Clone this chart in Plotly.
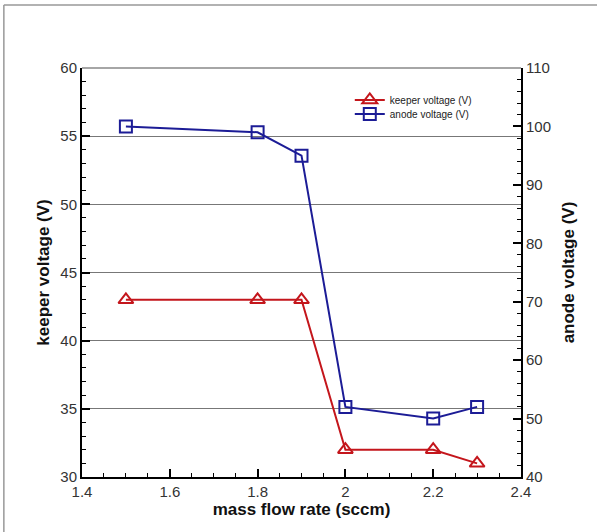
import plotly.graph_objects as go

flow = [1.5, 1.8, 1.9, 2.0, 2.2, 2.3]
keeper_v = [43, 43, 43, 32, 32, 31]
anode_v = [100, 99, 95, 52, 50, 52]

x_ticks = [1.4, 1.6, 1.8, 2.0, 2.2, 2.4]
x_ticklabels = ["1.4", "1.6", "1.8", "2", "2.2", "2.4"]

RED = "#c4161c"
BLUE = "#1c1c96"
FONT = "Liberation Sans, Arial, sans-serif"

fig = go.Figure()
fig.add_trace(go.Scatter(
    x=flow, y=keeper_v, name="keeper voltage (V)", mode="lines+markers",
    line=dict(color=RED, width=2), legend="legend",
    marker=dict(symbol="triangle-up-open", size=13, color=RED, line=dict(width=2, color=RED)),
))
fig.add_trace(go.Scatter(
    x=flow, y=anode_v, name="anode voltage (V)", mode="lines+markers", yaxis="y2",
    line=dict(color=BLUE, width=2), legend="legend2",
    marker=dict(symbol="square-open", size=12, color=BLUE, line=dict(width=2, color=BLUE)),
))

axis_common = dict(
    ticks="inside", ticklen=8, tickwidth=2, tickcolor="black",
    showline=True, linecolor="black", linewidth=2,
    tickfont=dict(family=FONT, size=15, color="#333"),
    zeroline=False,
)
title_font = dict(family=FONT, size=17, color="#111")
leg_common = dict(
    xanchor="left", yanchor="middle",
    bgcolor="rgba(0,0,0,0)", font=dict(family=FONT, size=10, color="#222"),
    itemwidth=30,
)

fig.update_layout(
    width=597, height=532,
    margin=dict(l=82, r=76, t=68, b=55),
    paper_bgcolor="white", plot_bgcolor="white",
    font=dict(family=FONT),
    xaxis=dict(
        range=[1.4, 2.4], tickvals=x_ticks, ticktext=x_ticklabels,
        showgrid=False,
        minor=dict(ticks="inside", ticklen=4, tickwidth=1, tickcolor="black", dtick=0.05, showgrid=False),
        title=dict(text="<b>mass flow rate (sccm)</b>", font=title_font, standoff=2),
        **axis_common,
    ),
    yaxis=dict(
        range=[30, 60], dtick=5,
        showgrid=True, gridcolor="#777", gridwidth=1,
        minor=dict(ticks="inside", ticklen=4, tickwidth=1, tickcolor="black", dtick=1, showgrid=False),
        title=dict(text="<b>keeper voltage (V)</b>", font=title_font, standoff=6),
        **axis_common,
    ),
    yaxis2=dict(
        range=[40, 110], dtick=10, overlaying="y", side="right",
        showgrid=False,
        minor=dict(ticks="inside", ticklen=4, tickwidth=1, tickcolor="black", dtick=2, showgrid=False),
        title=dict(text="<b>anode voltage (V)</b>", font=title_font, standoff=12),
        **axis_common,
    ),
    legend=dict(x=0.61, y=(477 - 100) / 409, **leg_common),
    legend2=dict(x=0.61, y=(477 - 114) / 409, **leg_common),
    showlegend=True,
    shapes=[
        dict(type="line", xref="paper", yref="paper", x0=0, x1=1, y0=1, y1=1,
             line=dict(color="#888", width=1.5)),
        dict(type="line", xref="paper", yref="paper", x0=-0.178, x1=1.2, y0=1.154, y1=1.154,
             line=dict(color="#999", width=1.5)),
        dict(type="line", xref="paper", yref="paper", x0=-0.178, x1=-0.178, y0=1.154, y1=-0.2,
             line=dict(color="#999", width=1.5)),
    ],
)

fig.write_html("out.html")
